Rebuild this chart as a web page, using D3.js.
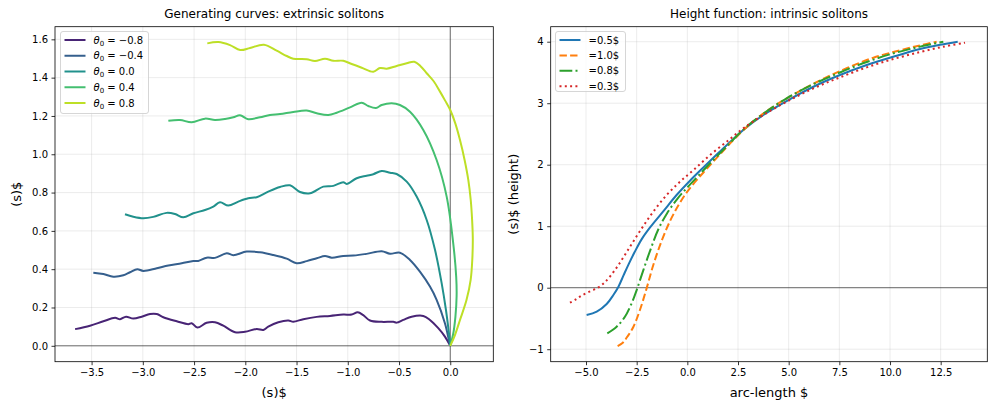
<!DOCTYPE html>
<html>
<head>
<meta charset="utf-8">
<script src="https://cdn.jsdelivr.net/npm/d3@7"></script>
<style>
  body { margin: 0; background: #fff; }
  svg text { font-family: "DejaVu Sans", sans-serif; }
</style>
</head>
<body>
<script>
// ---- data ----

// left panel: generating curves, one per theta0
const theta0 = [-0.8, -0.4, 0.0, 0.4, 0.8];

const genM08 = [[-3.661,0.087],[-3.515,0.105],[-3.385,0.128],[-3.271,0.146],[-3.222,0.139],[-3.164,0.152],[-3.093,0.142],[-3.011,0.152],[-2.930,0.166],[-2.864,0.166],[-2.800,0.149],[-2.669,0.128],[-2.556,0.113],[-2.523,0.118],[-2.468,0.095],[-2.377,0.120],[-2.296,0.123],[-2.215,0.105],[-2.100,0.071],[-2.003,0.073],[-1.889,0.088],[-1.824,0.083],[-1.776,0.100],[-1.678,0.123],[-1.580,0.132],[-1.532,0.126],[-1.434,0.139],[-1.303,0.151],[-1.174,0.156],[-1.044,0.163],[-0.962,0.163],[-0.903,0.175],[-0.849,0.160],[-0.783,0.132],[-0.669,0.125],[-0.556,0.125],[-0.523,0.121],[-0.459,0.135],[-0.377,0.152],[-0.263,0.156],[-0.198,0.135],[-0.117,0.092],[-0.052,0.048],[0,0]];

const genM04 = [[-3.483,0.382],[-3.385,0.375],[-3.288,0.361],[-3.190,0.368],[-3.125,0.384],[-3.054,0.400],[-2.995,0.391],[-2.864,0.405],[-2.751,0.419],[-2.620,0.431],[-2.507,0.443],[-2.459,0.443],[-2.377,0.460],[-2.296,0.459],[-2.181,0.483],[-2.117,0.473],[-1.986,0.492],[-1.857,0.488],[-1.727,0.474],[-1.596,0.455],[-1.499,0.431],[-1.401,0.442],[-1.303,0.457],[-1.222,0.469],[-1.157,0.460],[-1.044,0.469],[-0.946,0.471],[-0.816,0.480],[-0.669,0.494],[-0.588,0.481],[-0.491,0.486],[-0.393,0.448],[-0.296,0.387],[-0.198,0.309],[-0.133,0.240],[-0.052,0.118],[-0.010,0.022],[0,0]];

const gen00 = [[-3.174,0.687],[-3.093,0.674],[-2.995,0.666],[-2.898,0.673],[-2.767,0.694],[-2.686,0.688],[-2.605,0.671],[-2.507,0.692],[-2.393,0.709],[-2.312,0.727],[-2.247,0.749],[-2.166,0.732],[-2.068,0.753],[-1.971,0.770],[-1.889,0.776],[-1.776,0.805],[-1.661,0.829],[-1.564,0.838],[-1.466,0.803],[-1.369,0.796],[-1.239,0.831],[-1.141,0.835],[-1.044,0.854],[-1.011,0.845],[-0.913,0.875],[-0.816,0.888],[-0.751,0.896],[-0.669,0.913],[-0.588,0.904],[-0.523,0.897],[-0.425,0.857],[-0.328,0.779],[-0.230,0.657],[-0.149,0.501],[-0.084,0.327],[-0.042,0.187],[-0.015,0.075],[0,0]];

const genP04 = [[-2.751,1.175],[-2.637,1.179],[-2.523,1.167],[-2.393,1.186],[-2.296,1.179],[-2.198,1.184],[-2.117,1.193],[-2.052,1.204],[-1.971,1.183],[-1.857,1.193],[-1.759,1.205],[-1.661,1.210],[-1.532,1.221],[-1.401,1.228],[-1.303,1.214],[-1.190,1.205],[-1.108,1.217],[-0.978,1.245],[-0.864,1.269],[-0.800,1.252],[-0.725,1.242],[-0.669,1.257],[-0.572,1.266],[-0.491,1.257],[-0.393,1.222],[-0.263,1.127],[-0.133,0.970],[-0.035,0.779],[0.029,0.535],[0.058,0.360],[0.062,0.260],[0.050,0.150],[0.028,0.060],[0,0]];

const genP08 = [[-2.371,1.579],[-2.263,1.586],[-2.149,1.570],[-2.050,1.544],[-1.954,1.555],[-1.818,1.572],[-1.694,1.541],[-1.596,1.513],[-1.532,1.499],[-1.401,1.496],[-1.320,1.487],[-1.222,1.499],[-1.141,1.488],[-1.044,1.488],[-0.962,1.471],[-0.864,1.452],[-0.751,1.431],[-0.686,1.450],[-0.621,1.447],[-0.523,1.461],[-0.425,1.475],[-0.351,1.483],[-0.290,1.460],[-0.230,1.423],[-0.160,1.380],[-0.100,1.327],[-0.050,1.280],[0,1.231],[0.050,1.160],[0.095,1.074],[0.140,0.970],[0.176,0.866],[0.200,0.760],[0.213,0.660],[0.220,0.560],[0.215,0.450],[0.199,0.344],[0.159,0.240],[0.095,0.135],[0.045,0.055],[0,0]];

// right panel: height functions, one per lambda
const lambdas = ["0.5", "1.0", "0.8", "0.3"];

const heightL05 = [[-4.97,-0.444],[-4.47,-0.39],[-3.98,-0.266],[-3.65,-0.119],[-3.40,0.016],[-3.15,0.20],[-2.90,0.38],[-2.60,0.58],[-2.25,0.79],[-1.84,0.98],[-1.18,1.245],[-0.53,1.507],[0.13,1.740],[0.79,1.955],[1.45,2.165],[2.11,2.37],[2.76,2.564],[3.75,2.808],[4.98,3.051],[6.22,3.268],[7.53,3.458],[8.85,3.621],[10.16,3.756],[11.48,3.881],[12.47,3.951],[13.34,4.0]];

const heightL10 = [[-3.44,-0.949],[-3.20,-0.900],[-2.99,-0.810],[-2.66,-0.634],[-2.34,-0.363],[-2.01,-0.011],[-1.68,0.369],[-1.27,0.76],[-0.86,1.08],[-0.44,1.34],[-0.03,1.55],[0.46,1.75],[0.95,1.93],[1.61,2.17],[2.27,2.40],[3.09,2.66],[4.08,2.91],[5.23,3.14],[6.55,3.37],[7.86,3.57],[9.18,3.74],[10.49,3.86],[11.48,3.94],[12.30,4.0]];

const heightL08 = [[-3.95,-0.743],[-3.49,-0.634],[-3.08,-0.472],[-2.75,-0.255],[-2.50,-0.038],[-2.17,0.287],[-1.84,0.60],[-1.43,0.95],[-1.02,1.20],[-0.53,1.43],[-0.03,1.62],[0.54,1.82],[1.20,2.05],[1.86,2.27],[2.76,2.57],[3.75,2.83],[4.90,3.08],[6.22,3.31],[7.53,3.50],[8.85,3.67],[10.16,3.81],[11.48,3.92],[12.63,4.0]];

const heightL03 = [[-5.79,-0.244],[-5.50,-0.19],[-5.20,-0.125],[-4.80,-0.06],[-4.39,0.005],[-4.10,0.08],[-3.80,0.19],[-3.40,0.369],[-2.83,0.667],[-2.25,0.965],[-1.68,1.236],[-1.02,1.507],[-0.36,1.724],[0.30,1.913],[1.12,2.157],[1.94,2.374],[2.76,2.591],[3.75,2.808],[4.90,3.024],[6.22,3.241],[7.53,3.420],[8.85,3.583],[10.16,3.718],[11.48,3.832],[12.63,3.919],[13.70,3.984]];

// tick values
const leftXTicks = [-3.5, -3.0, -2.5, -2.0, -1.5, -1.0, -0.5, 0.0];
const leftYTicks = [0.0, 0.2, 0.4, 0.6, 0.8, 1.0, 1.2, 1.4, 1.6];
const rightXTicks = [-5.0, -2.5, 0.0, 2.5, 5.0, 7.5, 10.0, 12.5];
const rightYTicks = [-1, 0, 1, 2, 3, 4];

// ---- drawing ----
const W = 997, H = 409;
const svg = d3.select("body").append("svg")
    .attr("width", W)
    .attr("height", H);

let clipCount = 0;

// one matplotlib-style axes box: grid, clip region, returns scales
function makePanel(box, xDomain, yDomain, xTicks, yTicks) {
    let x = d3.scaleLinear().domain(xDomain).range([box.left, box.right]);
    let y = d3.scaleLinear().domain(yDomain).range([box.bottom, box.top]);

    let g = svg.append("g");

    g.append("g").selectAll("line").data(xTicks).join("line")
        .attr("x1", d => x(d)).attr("x2", d => x(d))
        .attr("y1", box.top).attr("y2", box.bottom)
        .attr("stroke", "#b0b0b0").attr("stroke-opacity", 0.3).attr("stroke-width", 0.8);
    g.append("g").selectAll("line").data(yTicks).join("line")
        .attr("x1", box.left).attr("x2", box.right)
        .attr("y1", d => y(d)).attr("y2", d => y(d))
        .attr("stroke", "#b0b0b0").attr("stroke-opacity", 0.3).attr("stroke-width", 0.8);

    let id = "clip" + (clipCount++);
    svg.append("clipPath").attr("id", id).append("rect")
        .attr("x", box.left).attr("y", box.top)
        .attr("width", box.right - box.left).attr("height", box.bottom - box.top);

    let plot = g.append("g").attr("clip-path", "url(#" + id + ")");

    return { g: g, plot: plot, x: x, y: y, box: box };
}

function finishPanel(p, xTicks, yTicks, fmtX, fmtY, title, xLabel, yLabel, yLabelX) {
    let box = p.box;

    p.g.append("rect")
        .attr("x", box.left).attr("y", box.top)
        .attr("width", box.right - box.left).attr("height", box.bottom - box.top)
        .attr("fill", "none").attr("stroke", "#000").attr("stroke-width", 0.8);

    let styleAxis = function(a) {
        a.select(".domain").remove();
        a.attr("font-family", "DejaVu Sans").attr("font-size", 10);
        a.selectAll("line").attr("stroke-width", 0.8).attr("stroke", "#000");
        a.selectAll("text").attr("fill", "#000");
    };

    p.g.append("g")
        .attr("transform", "translate(0," + box.bottom + ")")
        .call(d3.axisBottom(p.x).tickValues(xTicks).tickFormat(fmtX)
            .tickSize(3.5).tickPadding(3.5).tickSizeOuter(0))
        .call(styleAxis);

    p.g.append("g")
        .attr("transform", "translate(" + box.left + ",0)")
        .call(d3.axisLeft(p.y).tickValues(yTicks).tickFormat(fmtY)
            .tickSize(3.5).tickPadding(3.5).tickSizeOuter(0))
        .call(styleAxis);

    let cx = (box.left + box.right) / 2;
    let cy = (box.top + box.bottom) / 2;

    p.g.append("text")
        .attr("x", cx).attr("y", box.top - 8.5)
        .attr("text-anchor", "middle").attr("font-size", 12)
        .text(title);

    p.g.append("text")
        .attr("x", cx).attr("y", box.bottom + 35)
        .attr("text-anchor", "middle").attr("font-size", 13)
        .text(xLabel);

    p.g.append("text")
        .attr("transform", "translate(" + yLabelX + "," + cy + ") rotate(-90)")
        .attr("text-anchor", "middle").attr("font-size", 13)
        .text(yLabel);
}

// legend box in matplotlib style
function legend(p, x0, y0, w, h, rowY, items, drawLabel) {
    let lg = p.g.append("g");
    lg.append("rect")
        .attr("x", x0).attr("y", y0).attr("width", w).attr("height", h)
        .attr("rx", 2.5)
        .attr("fill", "#fff").attr("fill-opacity", 0.8)
        .attr("stroke", "#cccccc").attr("stroke-opacity", 0.8).attr("stroke-width", 1);

    items.forEach(function(it, i) {
        let yy = rowY[i];
        lg.append("line")
            .attr("x1", x0 + 4).attr("x2", x0 + 25)
            .attr("y1", yy).attr("y2", yy)
            .attr("stroke", it.color).attr("stroke-width", 2)
            .attr("stroke-dasharray", it.dash || null);
        let t = lg.append("text")
            .attr("x", x0 + 33).attr("y", yy + 3.6)
            .attr("font-size", 10);
        drawLabel(t, it);
    });
}

// ---------- left panel ----------
const leftBox = { left: 55, right: 493.3, top: 26.7, bottom: 361.7 };
const left = makePanel(leftBox, [-3.857, 0.42], [-0.083, 1.666], leftXTicks, leftYTicks);

// reference lines through the origin
left.plot.append("line")
    .attr("x1", left.x(0)).attr("x2", left.x(0))
    .attr("y1", leftBox.top).attr("y2", leftBox.bottom)
    .attr("stroke", "#000").attr("stroke-opacity", 0.7).attr("stroke-width", 0.8);
left.plot.append("line")
    .attr("x1", leftBox.left).attr("x2", leftBox.right)
    .attr("y1", left.y(0)).attr("y2", left.y(0))
    .attr("stroke", "#000").attr("stroke-opacity", 0.7).attr("stroke-width", 0.8);

const genCurves = [genM08, genM04, gen00, genP04, genP08];
const genColors = ["#482475", "#355f8d", "#21918c", "#44bf70", "#bddf26"];

let lineLeft = d3.line()
    .x(d => left.x(d[0]))
    .y(d => left.y(d[1]))
    .curve(d3.curveCatmullRom.alpha(0.5));

genCurves.forEach(function(c, i) {
    left.plot.append("path")
        .attr("d", lineLeft(c))
        .attr("fill", "none")
        .attr("stroke", genColors[i])
        .attr("stroke-width", 2)
        .attr("stroke-linejoin", "round");
});

finishPanel(left, leftXTicks, leftYTicks, d3.format(".1f"), d3.format(".1f"),
    "Generating curves: extrinsic solitons", "(s)$", "(s)$", 21);

let fmtTheta = d3.format(".1f");
legend(left, 60.5, 31.5, 88, 82, [40, 55.75, 71.5, 87.25, 103],
    theta0.map((t, i) => ({ color: genColors[i], value: t })),
    function(t, it) {
        t.append("tspan").attr("font-style", "italic").text("θ");
        t.append("tspan").attr("font-size", 7).attr("dy", 2).text("0");
        t.append("tspan").attr("dy", -2).text(" = " + fmtTheta(it.value));
    });

// ---------- right panel ----------
const rightBox = { left: 550.7, right: 987.3, top: 26.7, bottom: 361.7 };
const right = makePanel(rightBox, [-6.742, 14.8], [-1.203, 4.244], rightXTicks, rightYTicks);

right.plot.append("line")
    .attr("x1", rightBox.left).attr("x2", rightBox.right)
    .attr("y1", right.y(0)).attr("y2", right.y(0))
    .attr("stroke", "#000").attr("stroke-opacity", 0.45).attr("stroke-width", 1.2);

const heightCurves = [heightL05, heightL10, heightL08, heightL03];
const heightColors = ["#1f77b4", "#ff7f0e", "#2ca02c", "#d62728"];
const heightDashes = [null, "7.4,3.2", "12.8,3.2,2,3.2", "2,3.3"];

let lineRight = d3.line()
    .x(d => right.x(d[0]))
    .y(d => right.y(d[1]))
    .curve(d3.curveCatmullRom.alpha(0.5));

heightCurves.forEach(function(c, i) {
    right.plot.append("path")
        .attr("d", lineRight(c))
        .attr("fill", "none")
        .attr("stroke", heightColors[i])
        .attr("stroke-width", 2)
        .attr("stroke-dasharray", heightDashes[i]);
});

finishPanel(right, rightXTicks, rightYTicks, d3.format(".1f"), d3.format("d"),
    "Height function: intrinsic solitons", "arc-length $", "(s)$ (height)", 518);

legend(right, 555.5, 31.5, 70, 60, [40, 55.4, 70.8, 86.2],
    lambdas.map((l, i) => ({ color: heightColors[i], dash: heightDashes[i], value: l })),
    function(t, it) {
        t.text("=" + it.value + "$");
    });
</script>
</body>
</html>
